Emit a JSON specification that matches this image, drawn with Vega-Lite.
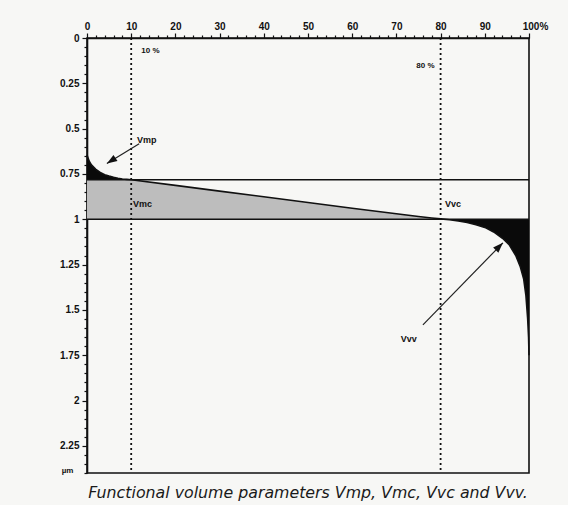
{
  "$schema": "https://vega.github.io/schema/vega-lite/v6.json",
  "width": 442,
  "height": 435,
  "autosize": "none",
  "padding": {"left": 87, "top": 38, "right": 39, "bottom": 32},
  "background": "#f7f7f5",
  "title": {
    "text": "Functional volume parameters Vmp, Vmc, Vvc and Vvv.",
    "orient": "bottom",
    "anchor": "middle",
    "offset": 8,
    "font": "DejaVu Sans",
    "fontSize": 15.8,
    "fontStyle": "italic",
    "fontWeight": "normal",
    "color": "#1a1a1a"
  },
  "config": {
    "view": {"stroke": "#111", "strokeWidth": 1.6},
    "axis": {
      "grid": false,
      "domainColor": "#111",
      "domainWidth": 1.6,
      "tickColor": "#111",
      "tickWidth": 1.2,
      "labelFont": "Liberation Sans",
      "labelFontWeight": "bold",
      "labelFontSize": 10,
      "labelColor": "#111"
    },
    "text": {"font": "Liberation Sans", "fontWeight": "bold", "fontSize": 9, "color": "#111"}
  },
  "datasets": {
    "curve": [
      {"pct": 0, "depth": 0.645},
      {"pct": 0.5, "depth": 0.68},
      {"pct": 1, "depth": 0.70},
      {"pct": 2, "depth": 0.725},
      {"pct": 3, "depth": 0.742},
      {"pct": 4, "depth": 0.754},
      {"pct": 5, "depth": 0.762},
      {"pct": 6, "depth": 0.769},
      {"pct": 7, "depth": 0.774},
      {"pct": 8, "depth": 0.778},
      {"pct": 9, "depth": 0.780},
      {"pct": 10, "depth": 0.782},
      {"pct": 20, "depth": 0.813},
      {"pct": 30, "depth": 0.845},
      {"pct": 40, "depth": 0.876},
      {"pct": 50, "depth": 0.908},
      {"pct": 60, "depth": 0.939},
      {"pct": 70, "depth": 0.970},
      {"pct": 75, "depth": 0.985},
      {"pct": 78, "depth": 0.993},
      {"pct": 80, "depth": 0.998},
      {"pct": 82, "depth": 1.003},
      {"pct": 84, "depth": 1.010},
      {"pct": 86, "depth": 1.018},
      {"pct": 88, "depth": 1.030},
      {"pct": 90, "depth": 1.045},
      {"pct": 92, "depth": 1.07},
      {"pct": 94, "depth": 1.105},
      {"pct": 95.5, "depth": 1.14},
      {"pct": 97, "depth": 1.20},
      {"pct": 98, "depth": 1.26},
      {"pct": 98.8, "depth": 1.33},
      {"pct": 99.3, "depth": 1.42},
      {"pct": 99.7, "depth": 1.55},
      {"pct": 99.9, "depth": 1.65},
      {"pct": 100, "depth": 1.75}
    ],
    "core": [
      {"pct": 0, "depth": 0.782},
      {"pct": 10, "depth": 0.782},
      {"pct": 20, "depth": 0.813},
      {"pct": 30, "depth": 0.845},
      {"pct": 40, "depth": 0.876},
      {"pct": 50, "depth": 0.908},
      {"pct": 60, "depth": 0.939},
      {"pct": 70, "depth": 0.970},
      {"pct": 75, "depth": 0.985},
      {"pct": 78, "depth": 0.993},
      {"pct": 80, "depth": 0.998}
    ],
    "levels": [
      {"pct": 0, "pct2": 100, "depth": 0.782},
      {"pct": 0, "pct2": 100, "depth": 1.0}
    ],
    "cuts": [
      {"pct": 10, "depth": 0, "depth2": 2.4},
      {"pct": 80, "depth": 0, "depth2": 2.4}
    ],
    "labels": [
      {"label": "10 %", "pct": 12.3, "depth": 0.07, "size": "small"},
      {"label": "80 %", "pct": 74.5, "depth": 0.155, "size": "small"},
      {"label": "Vmp", "pct": 11.3, "depth": 0.565, "size": "normal"},
      {"label": "Vmc", "pct": 10.4, "depth": 0.915, "size": "normal"},
      {"label": "Vvc", "pct": 81.0, "depth": 0.915, "size": "normal"},
      {"label": "Vvv", "pct": 71.0, "depth": 1.66, "size": "normal"}
    ],
    "arrows": [
      {"name": "Vmp", "pct": 4.5, "depth": 0.693, "pct2": 11.8, "depth2": 0.583},
      {"name": "Vvv", "pct": 94.1, "depth": 1.13, "pct2": 76.0, "depth2": 1.583}
    ]
  },
  "encoding": {
    "x": {
      "field": "pct", "type": "quantitative",
      "scale": {"domain": [0, 100], "nice": false},
      "axis": {
        "orient": "top",
        "title": null,
        "values": [0,2,4,6,8,10,12,14,16,18,20,22,24,26,28,30,32,34,36,38,40,42,44,46,48,50,52,54,56,58,60,62,64,66,68,70,72,74,76,78,80,82,84,86,88,90,92,94,96,98,100],
        "format": "d",
        "labelExpr": "datum.value % 10 === 0 ? (datum.value === 100 ? '100%' : datum.label) : ''",
        "labelOffset": {"condition": {"test": "datum.value === 100", "value": 6}, "value": 0},
        "tickSize": {"condition": {"test": "datum.value % 10 === 0", "value": 5}, "value": 3},
        "labelPadding": 2,
        "labelFlush": false,
        "labelOverlap": false
      }
    },
    "y": {
      "field": "depth", "type": "quantitative",
      "scale": {"domain": [0, 2.4], "reverse": true, "nice": false, "zero": false},
      "axis": {
        "title": "µm",
        "titleAngle": 0,
        "titleX": -20,
        "titleY": 432,
        "titleAlign": "center",
        "titleBaseline": "middle",
        "titleFont": "Liberation Sans",
        "titleFontSize": 8,
        "titleFontWeight": "bold",
        "titleColor": "#111",
        "values": [0,0.05,0.1,0.15,0.2,0.25,0.3,0.35,0.4,0.45,0.5,0.55,0.6,0.65,0.7,0.75,0.8,0.85,0.9,0.95,1,1.05,1.1,1.15,1.2,1.25,1.3,1.35,1.4,1.45,1.5,1.55,1.6,1.65,1.7,1.75,1.8,1.85,1.9,1.95,2,2.05,2.1,2.15,2.2,2.25,2.3,2.35,2.4],
        "labelExpr": "abs(datum.value * 4 - round(datum.value * 4)) < 0.001 && datum.value < 2.3 ? format(datum.value, '~g') : ''",
        "tickSize": {"condition": {"test": "abs(datum.value * 4 - round(datum.value * 4)) < 0.001", "value": 5}, "value": 3},
        "labelPadding": 3,
        "labelOverlap": false
      }
    }
  },
  "layer": [
    {
      "data": {"name": "core"},
      "mark": {"type": "area", "color": "#bdbdbd", "opacity": 1},
      "encoding": {"y2": {"datum": 1.0}}
    },
    {
      "data": {"name": "curve"},
      "transform": [{"filter": "datum.pct <= 10"}],
      "mark": {"type": "area", "color": "#0a0a0a"},
      "encoding": {"y2": {"datum": 0.782}}
    },
    {
      "data": {"name": "curve"},
      "transform": [{"filter": "datum.pct >= 80"}],
      "mark": {"type": "area", "color": "#0a0a0a"},
      "encoding": {"y2": {"datum": 1.0}}
    },
    {
      "data": {"name": "curve"},
      "mark": {"type": "line", "color": "#111", "strokeWidth": 1.6},
      "encoding": {}
    },
    {
      "data": {"name": "levels"},
      "mark": {"type": "rule", "color": "#111", "strokeWidth": 1.6},
      "encoding": {"x2": {"field": "pct2"}}
    },
    {
      "data": {"name": "cuts"},
      "mark": {"type": "rule", "color": "#111", "strokeWidth": 1.8, "strokeDash": [2, 3]},
      "encoding": {"y2": {"field": "depth2"}}
    },
    {
      "data": {"name": "labels"},
      "mark": {"type": "text", "align": "left", "baseline": "middle", "color": "#111"},
      "encoding": {
        "text": {"field": "label"},
        "size": {"field": "size", "type": "nominal", "scale": {"domain": ["small", "normal"], "range": [8, 9]}, "legend": null}
      }
    },
    {
      "data": {"name": "arrows"},
      "mark": {"type": "rule", "color": "#222", "strokeWidth": 1.2},
      "encoding": {
        "x2": {"field": "pct2"},
        "y2": {"field": "depth2"}
      }
    },
    {
      "data": {"name": "arrows"},
      "transform": [{"filter": "datum.name === 'Vmp'"}],
      "mark": {"type": "point", "shape": "M0,0L-0.36,1L0.36,1Z", "filled": true, "color": "#111", "opacity": 1, "size": 420, "angle": 237},
      "encoding": {}
    },
    {
      "data": {"name": "arrows"},
      "transform": [{"filter": "datum.name === 'Vvv'"}],
      "mark": {"type": "point", "shape": "M0,0L-0.36,1L0.36,1Z", "filled": true, "color": "#111", "opacity": 1, "size": 420, "angle": 44.5},
      "encoding": {}
    }
  ]
}
